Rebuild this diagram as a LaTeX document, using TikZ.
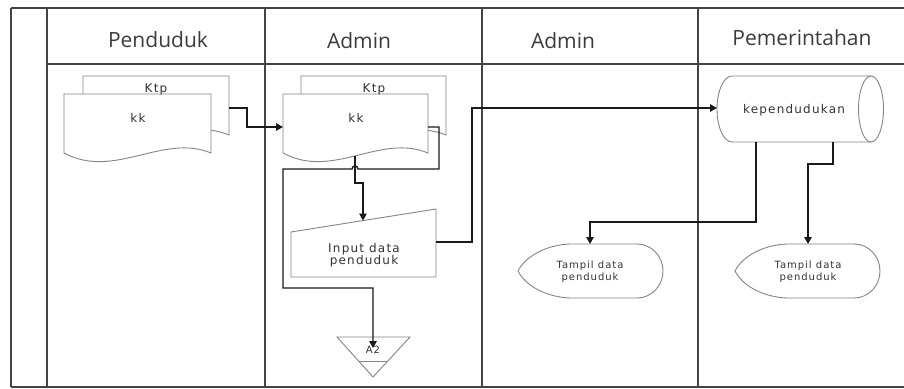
\documentclass[tikz,border=0pt]{standalone}
\usepackage{fontspec}
\usetikzlibrary{arrows.meta,calc}
\newfontfamily\headfont{Open Sans}
\newfontfamily\lblfont[LetterSpace=10]{DejaVu Sans}
\definecolor{laneline}{HTML}{444444}
\definecolor{shapeline}{HTML}{858585}
\definecolor{headtxt}{HTML}{3C3C3C}
\definecolor{lbltxt}{HTML}{333333}
\definecolor{connclr}{HTML}{1A1A1A}
\newcommand\wavedoc[5]{\path[shp] (#1,#3) -- (#2,#3) -- (#2,#4)
  .. controls ($(#2,#4)+(-48,-20)$) and ($(#1,#4)+(50,27)$) .. (#1,#4) -- cycle;
  \coordinate (#5) at (#1,#3);}
\begin{document}
\begin{tikzpicture}[x=1pt,y=-1pt,
  lane/.style={draw=laneline, line width=1.1pt},
  shp/.style={draw=shapeline, line width=0.9pt, fill=white},
  conn/.style={draw=connclr, line width=1.4pt, line join=miter},
  arr/.style={conn, -{Triangle[length=7pt,width=7.5pt]}},
  head/.style={font=\headfont\fontsize{21}{25}\selectfont, text=headtxt, inner sep=0pt},
  lbl/.style={font=\lblfont\fontsize{12}{12}\selectfont, text=lbltxt, inner sep=0pt, align=center},
  lbls/.style={font=\lblfont\fontsize{10}{12}\selectfont, text=lbltxt, inner sep=0pt, align=center}]
\useasboundingbox (0,0) rectangle (904,388);
\fill[white] (0,0) rectangle (904,388);
% swimlanes
\draw[lane] (11,8) -- (904,8);
\draw[lane] (47,64) -- (904,64);
\draw[lane] (11,8) -- (11,387);
\draw[lane] (47,8) -- (47,387);
\draw[lane] (265,8) -- (265,387);
\draw[lane] (482,8) -- (482,387);
\draw[lane] (698,8) -- (698,387);
\draw[lane] (11,387) -- (904,387);
\node[head, anchor=base] (h1) at (158,47) {Penduduk};
\node[head, anchor=base] (h2) at (359,48) {Admin};
\node[head, anchor=base] (h3) at (563,48) {Admin};
\node[head, anchor=base] (h4) at (802,45) {Pemerintahan};
% documents
\wavedoc{83}{229}{76}{135}{pktp}
\wavedoc{64}{211}{94}{153}{pkk}
\wavedoc{301}{446}{76}{135}{aktp}
\wavedoc{283}{428}{94}{153}{akk}
\node[lbl, anchor=base] (pktpl) at (156,92) {Ktp};
\node[lbl, anchor=base] (pkkl) at (138,122) {kk};
\node[lbl, anchor=base] (aktpl) at (374,92) {Ktp};
\node[lbl, anchor=base] (akkl) at (356,122) {kk};
% manual input
\path[shp] (291,232) -- (436,209) -- (436,277) -- (291,277) -- cycle;
\node[lbl] (inp) at (364,255) {Input data\\penduduk};
% direct access storage
\path[shp] (732,76) -- (871,76) .. controls (877.9,76) and (883.5,90.8) .. (883.5,109)
  .. controls (883.5,127.2) and (877.9,142) .. (871,142) -- (732,142)
  .. controls (723.7,142) and (717,127.2) .. (717,109)
  .. controls (717,90.8) and (723.7,76) .. (732,76) -- cycle;
\draw[draw=shapeline, line width=0.9pt] (871,76) .. controls (864.1,76) and (858.5,90.8) .. (858.5,109)
  .. controls (858.5,127.2) and (864.1,142) .. (871,142);
\node[lbl, anchor=base] (kep) at (794,113) {kependudukan};
% displays
\path[shp] (570,244) -- (637,244) .. controls (651.4,244) and (663,256.1) .. (663,271)
  .. controls (663,285.9) and (651.4,298) .. (637,298) -- (570,298)
  .. controls (545,297) and (525,285) .. (518,271)
  .. controls (525,257) and (545,245) .. (570,244) -- cycle;
\node[lbls] (d1) at (590,272) {Tampil data\\penduduk};
\path[shp] (787,244) -- (854,244) .. controls (868.4,244) and (880,256.1) .. (880,271)
  .. controls (880,285.9) and (868.4,298) .. (854,298) -- (787,298)
  .. controls (762,297) and (742,285) .. (735,271)
  .. controls (742,257) and (762,245) .. (787,244) -- cycle;
\node[lbls] (d2) at (808,272) {Tampil data\\penduduk};
% off-page connector
\path[shp] (337,337) -- (410,337) -- (373,377) -- cycle;
\draw[draw=shapeline, line width=0.9pt] (359,361) -- (388,361);
\node[lbls, anchor=base] (a2) at (373,353) {A2};
% connector points
\coordinate (pktp-r) at (229,108);
\coordinate (akk-l) at (283,127);
\coordinate (akk-r) at (428,127);
\coordinate (akk-b) at (355,156);
\coordinate (a2-top) at (373,348);
\coordinate (inp-top) at (363,220.5);
\coordinate (inp-r) at (436,242);
\coordinate (kep-l) at (717,108);
\coordinate (kep-b1) at (756,142);
\coordinate (kep-b2) at (833,142);
\coordinate (d1-top) at (590,244);
\coordinate (d2-top) at (808,244);
% connectors
\draw[arr] (pktp-r) -- (247,108) -- (247,127) -- (akk-l);
\draw[arr] (akk-r) -- (439,127) -- (439,169) -- (358,169)
  .. controls (358,165) and (352,165) .. (352,169) -- (283,169) -- (283,288) -- (373,288) -- (a2-top);
\draw[arr] (akk-b) -- (355,183) -- (363,183) -- (inp-top);
\draw[arr] (inp-r) -- (472,242) -- (472,108) -- (kep-l);
\draw[arr] (kep-b1) -- (756,222) -- (590,222) -- (d1-top);
\draw[arr] (kep-b2) -- (833,164) -- (808,164) -- (d2-top);
\end{tikzpicture}
\end{document}
